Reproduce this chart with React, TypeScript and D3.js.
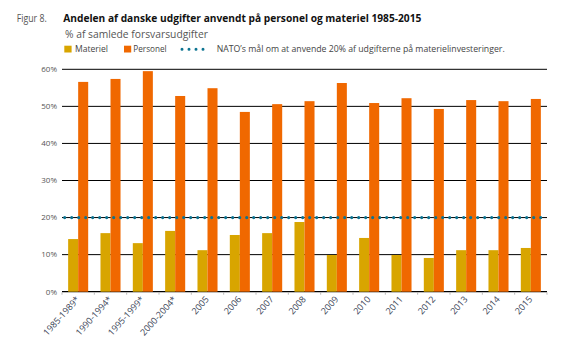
import { scaleBand, scaleLinear } from 'd3';

const categories = [
  '1985-1989*', '1990-1994*', '1995-1999*', '2000-2004*', '2005', '2006', '2007',
  '2008', '2009', '2010', '2011', '2012', '2013', '2014', '2015',
];
const materiel = [14.2, 15.8, 13.1, 16.4, 11.2, 15.3, 15.8, 18.8, 9.9, 14.5, 9.9, 9.1, 11.2, 11.2, 11.8];
const personel = [56.6, 57.4, 59.5, 52.8, 54.9, 48.5, 50.6, 51.4, 56.3, 50.9, 52.2, 49.3, 51.7, 51.4, 52.0];
const natoGoal = 20;
const yTicks = [0, 10, 20, 30, 40, 50, 60];

const W = 581;
const H = 354;
const plot = { left: 62, right: 547, top: 69.3, bottom: 291.7 };
const colMateriel = '#d8a500';
const colPersonel = '#f06800';
const colNato = '#0b7391';
const font = '"Open Sans", "Noto Sans", sans-serif';

const App = () => {
  const x = scaleBand<string>()
    .domain(categories)
    .range([plot.left, plot.right])
    .paddingInner(0.38)
    .paddingOuter(0.19);
  const sub = scaleBand<string>()
    .domain(['m', 'p'])
    .range([0, x.bandwidth()]);
  const y = scaleLinear().domain([0, 60]).range([plot.bottom, plot.top]);
  const step = x.step();

  return (
    <svg
      width={W}
      height={H}
      style={{ position: 'absolute', left: 0, top: 0, background: '#fff' }}
      fontFamily={font}
    >
      {/* header */}
      <text x={16.7} y={22.3} fontSize={10.5} fill="#555" textLength={30} lengthAdjust="spacingAndGlyphs">
        Figur 8.
      </text>
      <text x={63.3} y={22.3} fontSize={10.5} fontWeight="bold" fill="#111" textLength={358} lengthAdjust="spacingAndGlyphs">
        Andelen af danske udgifter anvendt på personel og materiel 1985-2015
      </text>
      <text x={65} y={38.3} fontSize={10.5} fill="#555" textLength={143} lengthAdjust="spacingAndGlyphs">
        % af samlede forsvarsudgifter
      </text>

      {/* legend */}
      <rect x={64.3} y={45.7} width={7.3} height={6.8} fill={colMateriel} />
      <text x={75} y={52.3} fontSize={9} fill="#444" textLength={33} lengthAdjust="spacingAndGlyphs">
        Materiel
      </text>
      <rect x={124} y={45.7} width={7.2} height={6.8} fill={colPersonel} />
      <text x={133.3} y={52.3} fontSize={9} fill="#444" textLength={33.4} lengthAdjust="spacingAndGlyphs">
        Personel
      </text>
      <line
        x1={182}
        x2={210}
        y1={49.3}
        y2={49.3}
        stroke={colNato}
        strokeWidth={3}
        strokeLinecap="round"
        strokeDasharray="0 7"
      />
      <text x={216.7} y={52.3} fontSize={9} fill="#444" textLength={288} lengthAdjust="spacingAndGlyphs">
        NATO’s mål om at anvende 20% af udgifterne på materielinvesteringer.
      </text>

      {/* gridlines + y labels */}
      {yTicks.map((t) => (
        <g key={t}>
          <line
            x1={plot.left}
            x2={plot.right}
            y1={y(t)}
            y2={y(t)}
            stroke="#000"
            strokeWidth={t === 0 ? 1.3 : 1}
          />
          <text x={57} y={y(t) + 2.8} fontSize={8} fill="#555" textAnchor="end">
            {t}%
          </text>
        </g>
      ))}

      {/* small ticks between categories */}
      {Array.from({ length: categories.length + 1 }, (_, i) => (
        <line
          key={i}
          x1={plot.left + i * step}
          x2={plot.left + i * step}
          y1={plot.bottom + 0.7}
          y2={plot.bottom + 3}
          stroke="#aaa"
          strokeWidth={0.8}
        />
      ))}

      {/* bars */}
      {categories.map((c, i) => (
        <g key={c}>
          <rect
            x={(x(c) ?? 0) + (sub('m') ?? 0)}
            y={y(materiel[i])}
            width={sub.bandwidth()}
            height={y(0) - y(materiel[i])}
            fill={colMateriel}
          />
          <rect
            x={(x(c) ?? 0) + (sub('p') ?? 0)}
            y={y(personel[i])}
            width={sub.bandwidth()}
            height={y(0) - y(personel[i])}
            fill={colPersonel}
          />
        </g>
      ))}

      {/* NATO 20% line */}
      <line
        x1={64.7}
        x2={545}
        y1={y(natoGoal)}
        y2={y(natoGoal)}
        stroke={colNato}
        strokeWidth={3.2}
        strokeLinecap="round"
        strokeDasharray="0 7"
      />

      {/* x labels */}
      {categories.map((c) => {
        const cx = (x(c) ?? 0) + x.bandwidth() / 2 + 2;
        return (
          <text
            key={c}
            transform={`translate(${cx},${plot.bottom + 8}) rotate(-48)`}
            fontSize={9}
            fill="#3c4658"
            textAnchor="end"
          >
            {c}
          </text>
        );
      })}
    </svg>
  );
};

export default App;
